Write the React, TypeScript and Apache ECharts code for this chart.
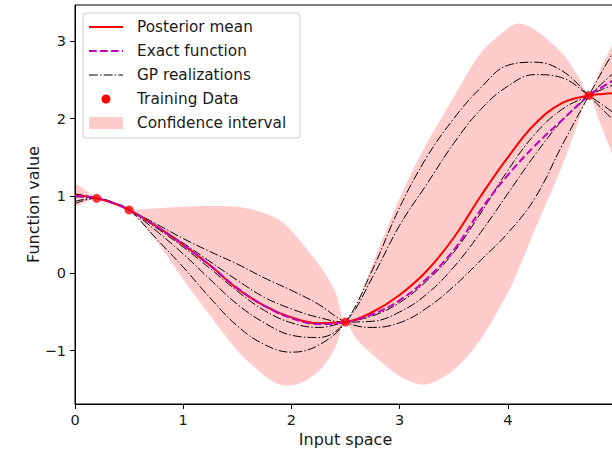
import React, { useEffect, useRef } from 'react';
import * as echarts from 'echarts';

// ---- data ----
const lineX = [0, 0.1, 0.2, 0.35, 0.5, 0.75, 1.0, 1.25, 1.5, 1.75, 2.0, 2.25, 2.5, 2.75, 3.0, 3.25, 3.5, 3.75, 4.0, 4.25, 4.5, 4.75, 4.875, 5.0];

const posteriorMean = [1.01, 0.995, 0.97, 0.91, 0.82, 0.61, 0.37, 0.10, -0.20, -0.42, -0.57, -0.645, -0.63, -0.50, -0.28, 0.03, 0.46, 1.00, 1.50, 1.93, 2.20, 2.30, 2.32, 2.33];
const exactFunction = [1.0, 0.99, 0.97, 0.91, 0.82, 0.61, 0.37, 0.10, -0.19, -0.42, -0.58, -0.655, -0.63, -0.53, -0.35, -0.07, 0.30, 0.82, 1.27, 1.65, 1.98, 2.30, 2.41, 2.52];

const realizationA = [0.90, 0.95, 0.97, 0.92, 0.82, 0.45, 0.08, -0.32, -0.68, -0.92, -1.02, -0.93, -0.63, 0.05, 0.85, 1.50, 2.00, 2.40, 2.69, 2.73, 2.62, 2.30, 2.12, 1.95];
const realizationB = [0.93, 0.96, 0.97, 0.915, 0.82, 0.55, 0.25, -0.08, -0.40, -0.64, -0.80, -0.83, -0.63, -0.05, 0.62, 1.15, 1.68, 2.12, 2.42, 2.57, 2.53, 2.30, 2.18, 2.05];
const realizationC = [1.03, 1.0, 0.97, 0.91, 0.82, 0.59, 0.34, 0.06, -0.23, -0.48, -0.64, -0.70, -0.63, -0.55, -0.38, -0.10, 0.27, 0.78, 1.33, 1.80, 2.12, 2.30, 2.38, 2.45];
const realizationD = [1.02, 1.0, 0.97, 0.91, 0.82, 0.61, 0.39, 0.15, -0.09, -0.31, -0.46, -0.57, -0.63, -0.62, -0.50, -0.27, 0.08, 0.53, 1.03, 1.53, 1.97, 2.30, 2.46, 2.62];
const realizationE = [0.99, 0.985, 0.97, 0.915, 0.82, 0.64, 0.45, 0.28, 0.12, -0.06, -0.22, -0.40, -0.63, -0.70, -0.64, -0.45, -0.17, 0.17, 0.52, 0.97, 1.65, 2.30, 2.62, 2.92];

const bandX = [0, 0.1, 0.2, 0.35, 0.5, 0.75, 1.0, 1.25, 1.5, 1.75, 1.9, 2.0, 2.25, 2.4, 2.5, 2.6, 2.75, 3.0, 3.22, 3.5, 3.75, 4.0, 4.1, 4.25, 4.5, 4.65, 4.75, 4.85, 5.0];
const bandUpper = [1.17, 1.07, 0.97, 0.93, 0.82, 0.84, 0.86, 0.87, 0.86, 0.78, 0.68, 0.55, 0.12, -0.22, -0.62, -0.42, 0.12, 0.97, 1.60, 2.28, 2.85, 3.17, 3.23, 3.15, 2.85, 2.55, 2.30, 2.62, 3.05];
const bandLower = [0.86, 0.92, 0.97, 0.89, 0.82, 0.42, -0.08, -0.55, -1.00, -1.32, -1.44, -1.45, -1.27, -0.98, -0.63, -0.85, -1.05, -1.33, -1.44, -1.25, -0.85, -0.25, 0.05, 0.56, 1.38, 1.95, 2.30, 1.95, 1.42];

const trainX = [0.2, 0.5, 2.5, 4.75];
const trainY = [0.97, 0.82, -0.63, 2.30];

const xTicks = [0, 1, 2, 3, 4, 5];
const xTickLabels = [0, 1, 2, 3, 4]; // the "5" label falls outside the picture in the reference
const yTicks = [-1, 0, 1, 2, 3];

const legendLabels = ['Posterior mean', 'Exact function', 'GP realizations', 'Training Data', 'Confidence interval'];

const pairs = (xs: number[], ys: number[]) => xs.map((x, i) => [x, ys[i]]);

const FONT = 'DejaVu Sans';
const TXT = '#1a1a1a';
const TICK_FS = 14.5;
const LABEL_FS = 16;
const LEGEND_FS = 15.3;

export default function App() {
  const ref = useRef<HTMLDivElement>(null);

  useEffect(() => {
    document.body.style.margin = '0';
    if (!ref.current) return;
    const chart = echarts.init(ref.current, undefined, { renderer: 'svg' });

    const realizations = [realizationA, realizationB, realizationC, realizationD, realizationE];

    const rowY = [27, 51, 75, 99, 123];
    const legendGraphic: any[] = [
      {
        type: 'rect', z: 100,
        shape: { x: 83, y: 13, width: 217, height: 125, r: 3 },
        style: { fill: 'rgba(255,255,255,0.8)', stroke: '#cccccc', lineWidth: 1 },
      },
      { type: 'line', z: 101, shape: { x1: 89, y1: rowY[0], x2: 123, y2: rowY[0] }, style: { stroke: '#ff0000', lineWidth: 2 } },
      { type: 'line', z: 101, shape: { x1: 89, y1: rowY[1], x2: 123, y2: rowY[1] }, style: { stroke: '#bf00bf', lineWidth: 2, lineDash: [7.7, 3.3] } },
      { type: 'line', z: 101, shape: { x1: 89, y1: rowY[2], x2: 123, y2: rowY[2] }, style: { stroke: '#000000', lineWidth: 1, lineDash: [8.9, 2.2, 1.4, 2.2] } },
      { type: 'circle', z: 101, shape: { cx: 106, cy: rowY[3], r: 4.5 }, style: { fill: '#ff0000' } },
      { type: 'rect', z: 101, shape: { x: 89, y: 117, width: 34, height: 12 }, style: { fill: '#ffcccc' } },
      ...legendLabels.map((t, i) => ({
        type: 'text', z: 101, x: 137, y: rowY[i],
        style: { text: t, fontSize: LEGEND_FS, fontFamily: FONT, fill: TXT, verticalAlign: 'middle', align: 'left' },
      })),
    ];

    const option: any = {
      animation: false,
      textStyle: { fontFamily: FONT },
      grid: {
        left: 75, top: 5, width: 541, height: 399,
        outerBoundsMode: 'none', containLabel: false,
        show: true, borderColor: '#000', borderWidth: 1, backgroundColor: 'transparent',
      },
      xAxis: {
        type: 'value', min: 0, max: 5, interval: 1,
        name: 'Input space', nameLocation: 'middle', nameGap: 24,
        nameTextStyle: { fontSize: LABEL_FS, color: TXT, fontFamily: FONT },
        axisLine: { show: true, onZero: false, lineStyle: { color: '#000', width: 1 } },
        axisTick: { show: true, length: 5, lineStyle: { color: '#000', width: 1 }, customValues: xTicks },
        axisLabel: { fontSize: TICK_FS, color: TXT, fontFamily: FONT, margin: 8, customValues: xTickLabels },
        splitLine: { show: false },
      },
      yAxis: {
        type: 'value', min: -1.69, max: 3.47,
        name: 'Function value', nameLocation: 'middle', nameGap: 34, nameMoveOverlap: false,
        nameTextStyle: { fontSize: LABEL_FS, color: TXT, fontFamily: FONT },
        axisLine: { show: true, onZero: false, lineStyle: { color: '#000', width: 1 } },
        axisTick: { show: true, length: 5, lineStyle: { color: '#000', width: 1 }, customValues: yTicks },
        axisLabel: {
          fontSize: TICK_FS, color: TXT, fontFamily: FONT, margin: 9, customValues: yTicks,
          formatter: (v: number) => (v < 0 ? '\u2212' + Math.abs(v) : String(v)),
        },
        splitLine: { show: false },
      },
      series: [
        {
          name: 'Confidence interval', type: 'line',
          data: pairs(bandX, bandUpper), symbol: 'none', smooth: 0.3,
          lineStyle: { width: 0, opacity: 0 }, areaStyle: { color: '#ffcccc', opacity: 1, origin: 'start' },
          z: -2, silent: true,
        },
        {
          name: 'ci-lower', type: 'line',
          data: pairs(bandX, bandLower), symbol: 'none', smooth: 0.3,
          lineStyle: { width: 0, opacity: 0 }, areaStyle: { color: '#ffffff', opacity: 1, origin: 'start' },
          z: -1, silent: true,
        },
        ...realizations.map((r) => ({
          name: 'GP realizations', type: 'line', data: pairs(lineX, r), symbol: 'none', smooth: 0.4,
          lineStyle: { color: '#000', width: 1, type: [8.9, 2.2, 1.4, 2.2] }, z: 2,
        })),
        {
          name: 'Posterior mean', type: 'line', data: pairs(lineX, posteriorMean), symbol: 'none', smooth: 0.4,
          lineStyle: { color: '#ff0000', width: 2 }, z: 3,
        },
        {
          name: 'Exact function', type: 'line', data: pairs(lineX, exactFunction), symbol: 'none', smooth: 0.4,
          lineStyle: { color: '#bf00bf', width: 2, type: [7.7, 3.3] }, z: 4,
        },
        {
          name: 'Training Data', type: 'scatter', data: pairs(trainX, trainY), symbol: 'circle', symbolSize: 9,
          itemStyle: { color: '#ff0000' }, z: 5,
        },
      ],
      graphic: legendGraphic,
    };

    chart.setOption(option);
    return () => chart.dispose();
  }, []);

  return <div ref={ref} style={{ width: 612, height: 449, position: 'absolute', left: 0, top: 0 }} />;
}
